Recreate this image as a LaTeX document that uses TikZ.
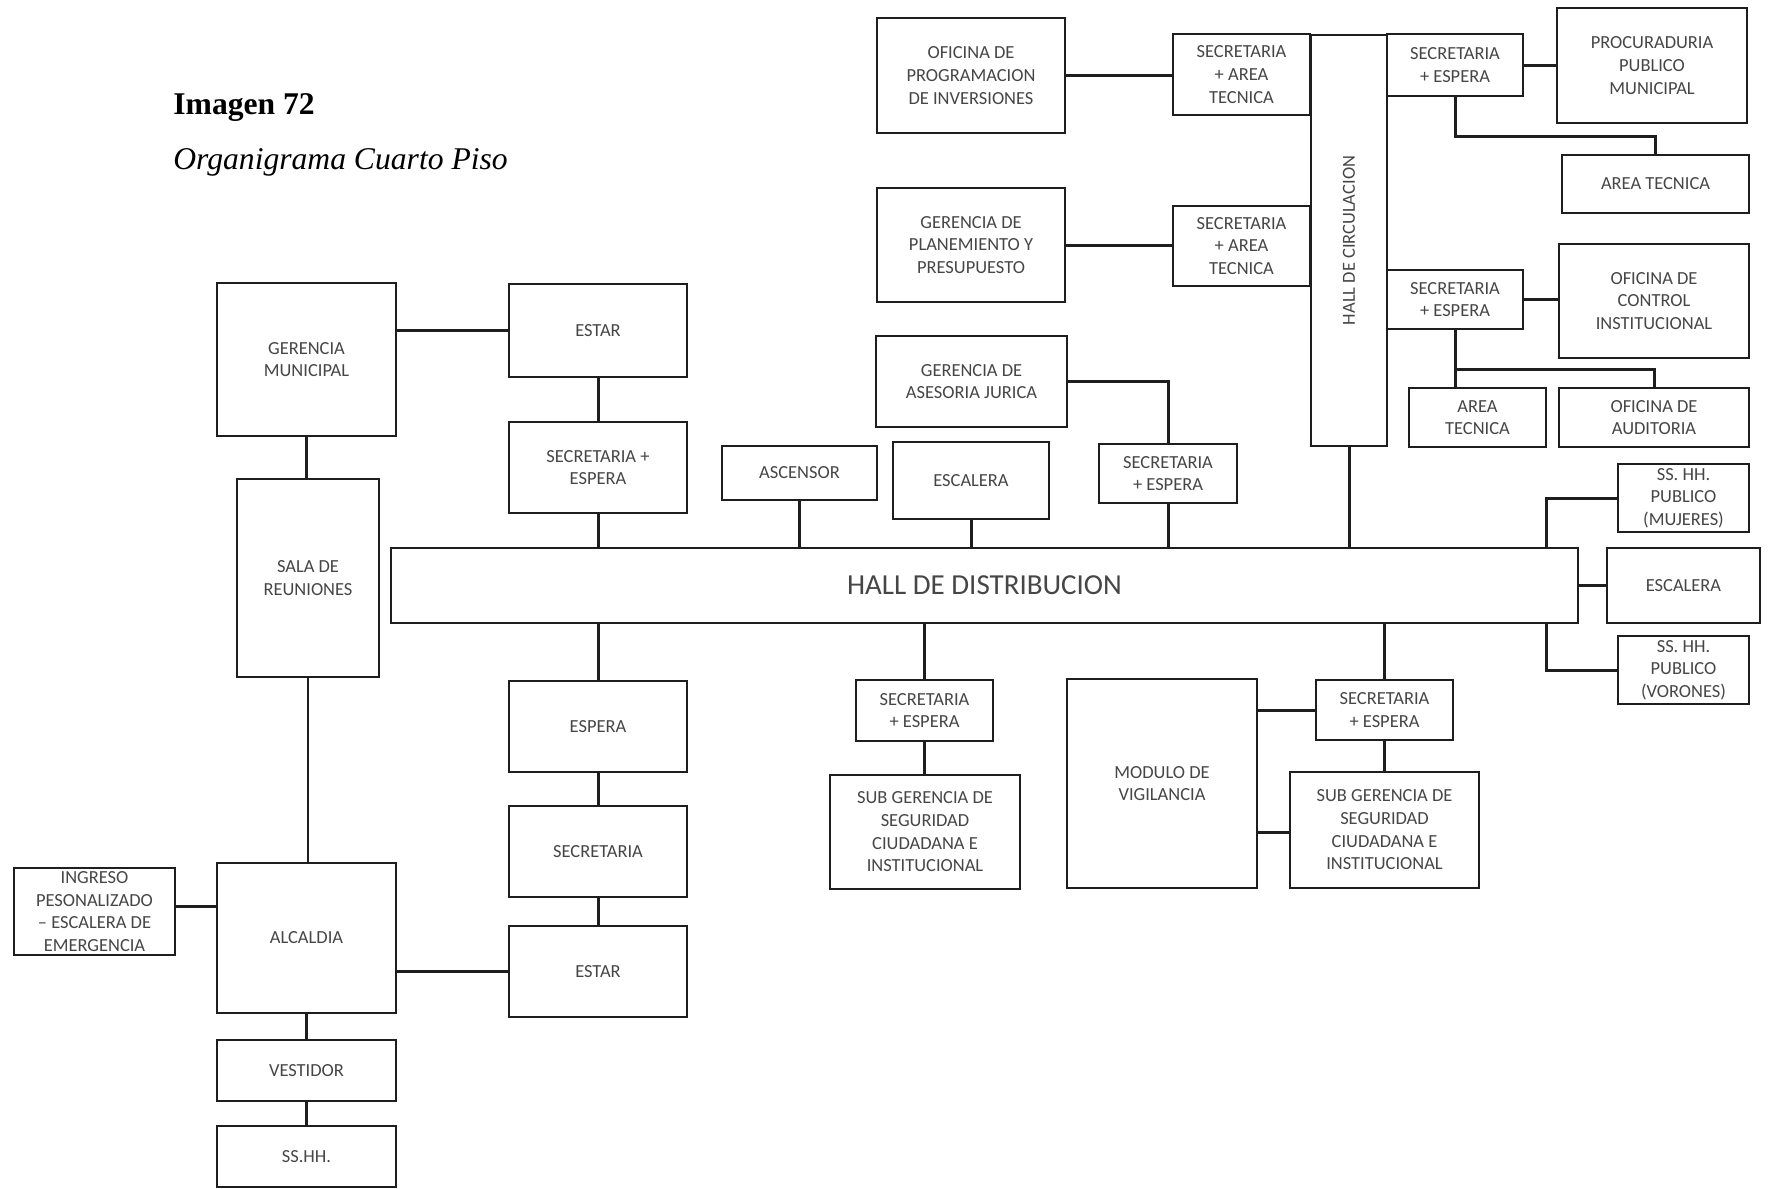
\documentclass[tikz,border=0pt]{standalone}
\usepackage{fontspec}
\setmainfont{Liberation Serif}
\newfontfamily\boxfont{Carlito}
\usepackage{tikz}
\usetikzlibrary{calc}
\definecolor{mydark}{RGB}{30,30,30}
\definecolor{mytext}{RGB}{70,70,70}
\tikzset{
  room/.style={rectangle, draw=mydark, fill=white, align=center,
    inner sep=0pt, outer sep=0pt, line width=1.3pt, text=mytext,
    font=\boxfont\fontsize{10.5}{12.9}\selectfont},
  sz/.style 2 args={minimum width={#1*0.02cm}, minimum height={#2*0.02cm}},
  link/.style={line width=1.7pt, color=mydark}
}

\begin{document}
\begin{tikzpicture}[x=0.02cm, y=-0.02cm]
  \useasboundingbox (0,0) rectangle (1768,1188);

  % Title
  \node[anchor=base west, inner sep=0pt, font=\bfseries\fontsize{18}{21}\selectfont] (titulo) at (173,114) {Imagen 72};
  \node[anchor=base west, inner sep=0pt, font=\itshape\fontsize{18}{21}\selectfont] (subtitulo) at (173,169) {Organigrama Cuarto Piso};

  % Hall de distribucion
  \node[room, sz={1187}{75}, font=\boxfont\fontsize{16.5}{19}\selectfont] (hall) at (984.5,585.5) {HALL DE DISTRIBUCION};

  % Upper right block
  \node[room, sz={188}{115}] (oficina) at (971,75.5) {OFICINA DE\\PROGRAMACION\\DE INVERSIONES};
  \node[room, sz={137}{81}] (secat1) at (1241.5,74.5) {SECRETARIA\\+ AREA\\TECNICA};
  \node[room, sz={188}{114}] (gerplan) at (971,245) {GERENCIA DE\\PLANEMIENTO Y\\PRESUPUESTO};
  \node[room, sz={137}{80}] (secat2) at (1241.5,246) {SECRETARIA\\+ AREA\\TECNICA};
  \node[room, sz={76}{411}, label={[rotate=90, text=mytext, font=\boxfont\fontsize{10.5}{12.9}\selectfont]center:HALL DE CIRCULACION}] (hallcirc) at (1349,240.5) {};
  \node[room, sz={136}{62}] (secesp1) at (1455,65) {SECRETARIA\\+ ESPERA};
  \node[room, sz={190}{115}] (procur) at (1652,65.5) {PROCURADURIA\\PUBLICO\\MUNICIPAL};
  \node[room, sz={187}{58}] (areatec1) at (1655.5,184) {AREA TECNICA};
  \node[room, sz={136}{59}] (secesp2) at (1455,299.5) {SECRETARIA\\+ ESPERA};
  \node[room, sz={190}{114}] (ofcontrol) at (1654,301) {OFICINA DE\\CONTROL\\INSTITUCIONAL};
  \node[room, sz={137}{59}] (areatec2) at (1477.5,417.5) {AREA\\TECNICA};
  \node[room, sz={190}{59}] (ofaudit) at (1654,417.5) {OFICINA DE\\AUDITORIA};

  % Above the hall
  \node[room, sz={191}{91}] (gerjur) at (971.5,381.5) {GERENCIA DE\\ASESORIA JURICA};
  \node[room, sz={156}{77}] (escmid) at (971,480.5) {ESCALERA};
  \node[room, sz={138}{59}] (secesp3) at (1168,473.5) {SECRETARIA\\+ ESPERA};
  \node[room, sz={155}{54}] (ascensor) at (799.5,473) {ASCENSOR};

  % Gerencia municipal
  \node[room, sz={179}{153}] (germun) at (306.5,359.5) {GERENCIA\\MUNICIPAL};
  \node[room, sz={178}{93}] (estar1) at (598,330.5) {ESTAR};
  \node[room, sz={178}{91}] (secesp4) at (598,467.5) {SECRETARIA +\\ESPERA};
  \node[room, sz={142}{198}] (sala) at (308,578) {SALA DE\\REUNIONES};

  % Alcaldia
  \node[room, sz={178}{91}] (espera) at (598,726.5) {ESPERA};
  \node[room, sz={178}{91}] (secret) at (598,851.5) {SECRETARIA};
  \node[room, sz={178}{91}] (estar2) at (598,971.5) {ESTAR};
  \node[room, sz={179}{150}] (alcaldia) at (306.5,938) {ALCALDIA};
  \node[room, sz={161}{87}] (ingreso) at (94.5,911.5) {INGRESO\\PESONALIZADO\\– ESCALERA DE\\EMERGENCIA};
  \node[room, sz={179}{61}] (vestidor) at (306.5,1070.5) {VESTIDOR};
  \node[room, sz={179}{61}] (sshh) at (306.5,1156.5) {SS.HH.};

  % Seguridad
  \node[room, sz={137}{61}] (secesp5) at (924.5,710.5) {SECRETARIA\\+ ESPERA};
  \node[room, sz={190}{114}] (subger1) at (925,832) {SUB GERENCIA DE\\SEGURIDAD\\CIUDADANA E\\INSTITUCIONAL};
  \node[room, sz={190}{209}] (modulo) at (1162,783.5) {MODULO DE\\VIGILANCIA};
  \node[room, sz={137}{60}] (secesp6) at (1384.5,710) {SECRETARIA\\+ ESPERA};
  \node[room, sz={189}{116}] (subger2) at (1384.5,830) {SUB GERENCIA DE\\SEGURIDAD\\CIUDADANA E\\INSTITUCIONAL};

  % Right end
  \node[room, sz={131}{68}] (sshhm) at (1683.5,498) {SS. HH.\\PUBLICO\\(MUJERES)};
  \node[room, sz={153}{75}] (escder) at (1683.5,585.5) {ESCALERA};
  \node[room, sz={131}{68}] (sshhv) at (1683.5,670) {SS. HH.\\PUBLICO\\(VORONES)};

  % Links upper right
  \draw[link] (oficina.east) -- (oficina.east -| secat1.west);
  \draw[link] (gerplan.east) -- (gerplan.east -| secat2.west);
  \draw[link] (secesp1.east) -- (secesp1.east -| procur.west);
  \draw[link] (secesp1.south) -- ++(0,40) -| (areatec1.north);
  \draw[link] (secesp2.east) -- (secesp2.east -| ofcontrol.west);
  \draw[link] (secesp2.south) -- (secesp2.south |- areatec2.north);
  \draw[link] (secesp2.south) ++(0,40) -| (ofaudit.north);
  \draw[link] (hallcirc.south) -- (hallcirc.south |- hall.north);

  % Links above the hall
  \draw[link] (gerjur.east) -| (secesp3.north);
  \draw[link] (secesp3.south) -- (secesp3.south |- hall.north);
  \draw[link] (escmid.south) -- (escmid.south |- hall.north);
  \draw[link] (ascensor.south) -- (ascensor.south |- hall.north);
  \draw[link] (secesp4.south) -- (secesp4.south |- hall.north);
  \draw[link] (estar1.south) -- (secesp4.north);
  \draw[link] (estar1.west) -- (estar1.west -| germun.east);
  \draw[link] (germun.south) -- (germun.south |- sala.north);

  % Links below the hall
  \draw[link] (sala.south) -- (sala.south |- alcaldia.north);
  \draw[link] ([yshift=0.1cm]ingreso.east) -- ([yshift=0.1cm]ingreso.east -| alcaldia.west);
  \draw[link] (estar2.west) -- (estar2.west -| alcaldia.east);
  \draw[link] (alcaldia.south) -- (vestidor.north);
  \draw[link] (vestidor.south) -- (sshh.north);
  \draw[link] (espera.north) -- (espera.north |- hall.south);
  \draw[link] (espera.south) -- (secret.north);
  \draw[link] (secret.south) -- (estar2.north);
  \draw[link] (secesp5.north) -- (secesp5.north |- hall.south);
  \draw[link] (secesp5.south) -- (secesp5.south |- subger1.north);
  \draw[link] (secesp6.north) -- (secesp6.north |- hall.south);
  \draw[link] (secesp6.south) -- (subger2.north);
  \draw[link] (secesp6.west) -- (secesp6.west -| modulo.east);
  \draw[link] ([yshift=-0.04cm]subger2.west) -- ([yshift=-0.04cm]subger2.west -| modulo.east);

  % Links right end
  \draw[link] (hall.east) -- (escder.west);
  \draw[link] (sshhm.west) -| ($(hall.north east)+(-32,0)$);
  \draw[link] (sshhv.west) -| ($(hall.south east)+(-32,0)$);
\end{tikzpicture}
\end{document}
